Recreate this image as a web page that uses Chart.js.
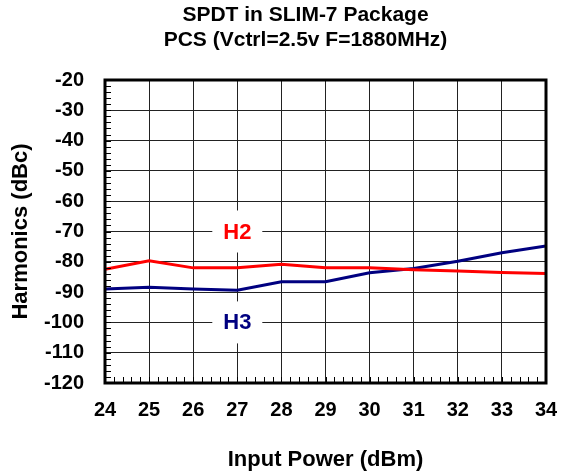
<!DOCTYPE html>
<html>
<head>
<meta charset="utf-8">
<script src="https://cdn.jsdelivr.net/npm/chart.js@4"></script>
<style>
  html, body { margin: 0; padding: 0; background: #fff; }
  #wrap { width: 566px; height: 474px; }
</style>
</head>
<body>
<div id="wrap"><canvas id="harmChart"></canvas></div>
<script>
// values
const inputPower = [24, 25, 26, 27, 28, 29, 30, 31, 32, 33, 34];
const h2 = [-82.5, -79.7, -82, -82, -80.8, -82, -82, -82.6, -83, -83.5, -83.9];
const h3 = [-89, -88.4, -89, -89.4, -86.6, -86.6, -83.6, -82.2, -79.8, -77, -74.8];
const seriesLabels = ['H2', 'H3'];
const seriesColors = ['#FF0000', '#000080'];
const titleLines = ['SPDT in SLIM-7 Package', 'PCS (Vctrl=2.5v F=1880MHz)'];
// where the inline series labels sit (data coords)
const labelSpots = [{ x: 27, y: -70 }, { x: 27, y: -100 }];

const FONT = '"Liberation Sans", Arial, sans-serif';

function toPoints(xs, ys) {
    return xs.map((x, i) => ({ x: x, y: ys[i] }));
}

// frame, minor ticks, the H2 / H3 tags and the two-line title
const decorPlugin = {
    id: 'decor',
    afterDatasetsDraw(chart) {
        const { ctx, chartArea: a, scales: { x, y } } = chart;
        ctx.save();
        ctx.strokeStyle = '#000';
        ctx.lineWidth = 1;
        ctx.beginPath();
        // minor ticks on left axis, every 2 dBc
        for (let v = -120; v <= -20; v += 2) {
            const py = Math.round(y.getPixelForValue(v)) + 0.5;
            ctx.moveTo(a.left, py);
            ctx.lineTo(a.left + 6, py);
        }
        // minor ticks on bottom axis, every 0.2 dBm
        for (let i = 0; i <= 50; i++) {
            const px = Math.round(x.getPixelForValue(24 + i * 0.2)) + 0.5;
            ctx.moveTo(px, a.bottom);
            ctx.lineTo(px, a.bottom - 6);
        }
        ctx.stroke();

        // plot frame
        ctx.lineWidth = 3;
        ctx.strokeRect(a.left, a.top, a.right - a.left, a.bottom - a.top);

        // series tags on a white box
        ctx.font = 'bold 22px ' + FONT;
        ctx.textAlign = 'center';
        ctx.textBaseline = 'middle';
        labelSpots.forEach((p, i) => {
            const cx = x.getPixelForValue(p.x);
            const cy = y.getPixelForValue(p.y);
            ctx.fillStyle = '#fff';
            ctx.fillRect(cx - 25, cy - 21, 50, 42);
            ctx.fillStyle = seriesColors[i];
            ctx.fillText(seriesLabels[i], cx, cy + 1);
        });

        // title, sits a little left of the plot centre like the original
        ctx.fillStyle = '#000';
        ctx.font = 'bold 21px ' + FONT;
        const tx = (a.left + a.right) / 2 - 20;
        ctx.fillText(titleLines[0], tx, 15);
        ctx.fillText(titleLines[1], tx, 40);
        ctx.restore();
    }
};

const ctxHarm = document.getElementById('harmChart').getContext('2d');
const harmChart = new Chart(ctxHarm, {
    type: 'line',
    data: {
        datasets: [{
            label: seriesLabels[0],
            data: toPoints(inputPower, h2),
            borderColor: seriesColors[0],
            borderWidth: 3,
            pointRadius: 0,
            tension: 0
        }, {
            label: seriesLabels[1],
            data: toPoints(inputPower, h3),
            borderColor: seriesColors[1],
            borderWidth: 3,
            pointRadius: 0,
            tension: 0
        }]
    },
    options: {
        responsive: true,
        maintainAspectRatio: false,
        animation: false,
        layout: { padding: { left: 8, right: 20, top: 80, bottom: 2 } },
        scales: {
            x: {
                type: 'linear',
                min: 24,
                max: 34,
                afterFit: function(scale) {
                    scale.height = 89;
                    scale.paddingRight = 0;
                    scale.paddingLeft = 0;
                },
                border: { display: false },
                grid: { color: '#222', lineWidth: 1, drawTicks: false },
                ticks: {
                    stepSize: 1,
                    padding: 15,
                    color: '#000',
                    font: { family: FONT, weight: 'bold', size: 20 }
                },
                title: {
                    display: true,
                    text: 'Input Power (dBm)',
                    color: '#000',
                    padding: { top: 0, bottom: 0 },
                    font: { family: FONT, weight: 'bold', size: 22, lineHeight: 1.1 }
                }
            },
            y: {
                min: -120,
                max: -20,
                afterFit: function(scale) { scale.width = 97; },
                border: { display: false },
                grid: { color: '#222', lineWidth: 1, drawTicks: false },
                ticks: {
                    stepSize: 10,
                    padding: 21,
                    color: '#000',
                    font: { family: FONT, weight: 'bold', size: 20 }
                },
                title: {
                    display: true,
                    text: 'Harmonics (dBc)',
                    color: '#000',
                    padding: { top: 0, bottom: 0 },
                    font: { family: FONT, weight: 'bold', size: 22, lineHeight: 1.2 }
                }
            }
        },
        plugins: {
            legend: { display: false },
            tooltip: { enabled: false },
            title: { display: false }
        }
    },
    plugins: [decorPlugin]
});
</script>
</body>
</html>
